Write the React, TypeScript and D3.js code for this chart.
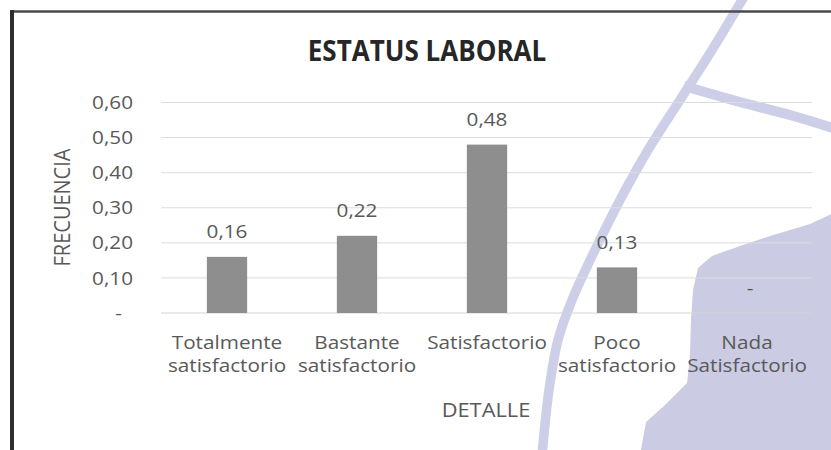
import React from "react";
import * as d3 from "d3";

const categories: string[][] = [
  ["Totalmente", "satisfactorio"],
  ["Bastante", "satisfactorio"],
  ["Satisfactorio"],
  ["Poco", "satisfactorio"],
  ["Nada", "Satisfactorio"],
];
const values: number[] = [0.16, 0.22, 0.48, 0.13, 0];
const yTicks: number[] = [0, 0.1, 0.2, 0.3, 0.4, 0.5, 0.6];
const title = "ESTATUS LABORAL";
const xTitle = "DETALLE";
const yTitle = "FRECUENCIA";

// decorative scan watermark (background only)
const wmArc: [number, number][] = [
  [745, -5], [712, 50], [680, 100], [648, 150], [620, 200], [595, 250],
  [572, 300], [558, 340], [549, 390], [542, 455],
];
const wmBranch: [number, number][] = [[684, 86], [740, 102], [790, 115], [836, 129]];
const wmBlob: [number, number][] = [
  [836, 212], [810, 224], [770, 236], [740, 246], [712, 256], [698, 268],
  [693, 290], [691, 320], [690, 355], [687, 383], [665, 405], [646, 422],
  [640, 455], [836, 455],
];

const W = 831;
const H = 450;
const FONT = "'Open Sans', sans-serif";
const SX = 1.12;
const fmt = (v: number) => (v === 0 ? "-" : d3.format(".2f")(v).replace(".", ","));

export default function App() {
  const x = d3
    .scaleBand<number>()
    .domain(categories.map((_, i) => i))
    .range([162, 812])
    .paddingInner(0.69)
    .paddingOuter(0.345);
  const y = d3.scaleLinear().domain([0, 0.6]).range([313, 102.5]);
  const line = d3.line().curve(d3.curveCatmullRom);
  const area = d3.line().curve(d3.curveLinearClosed);

  const T = (
    key: string,
    tx: number,
    ty: number,
    txt: string,
    size: number,
    anchor: string,
    fill = "#595959",
    weight = 400,
    sx = SX
  ) => (
    <text
      key={key}
      transform={`translate(${tx},${ty}) scale(${sx},1)`}
      textAnchor={anchor}
      fontSize={size}
      fontWeight={weight}
      fill={fill}
      fontFamily={FONT}
    >
      {txt}
    </text>
  );

  return (
    <svg
      width={W}
      height={H}
      style={{ position: "absolute", left: 0, top: 0, display: "block", background: "#fff" }}
    >
      {/* watermark */}
      <path d={area(wmBlob) || ""} fill="#cbcbe3" />
      <path d={line(wmArc) || ""} fill="none" stroke="#cdcee8" strokeWidth={9.5} />
      <path d={line(wmBranch) || ""} fill="none" stroke="#cdcee8" strokeWidth={10} />

      {/* frame */}
      <line x1={10} x2={W} y1={11.5} y2={11.5} stroke="#4a4a4a" strokeWidth={2.5} />
      <line x1={12} x2={12} y1={10} y2={H} stroke="#2e2e2e" strokeWidth={4} />

      {/* gridlines */}
      {yTicks.slice(1).map((t) => (
        <line key={"g" + t} x1={161} x2={812} y1={y(t)} y2={y(t)} stroke="#dcdcdc" strokeWidth={1} />
      ))}
      <line x1={161} x2={812} y1={y(0)} y2={y(0)} stroke="#d4d4d4" strokeWidth={1} />

      {/* y tick labels */}
      {yTicks.map((t) =>
        T("yt" + t, t === 0 ? 122 : 133, y(t) + 6.6, fmt(t), 18.5, "end")
      )}

      {/* bars */}
      {values.map((v, i) => (
        <rect
          key={"b" + i}
          x={x(i)}
          y={y(v)}
          width={x.bandwidth()}
          height={y(0) - y(v)}
          fill="#8e8e8e"
        />
      ))}

      {/* data labels */}
      {values.map((v, i) =>
        T("dl" + i, (x(i) as number) + x.bandwidth() / 2 + (v === 0 ? 3 : 0), y(v) - 18.5, fmt(v), 18.5, "middle")
      )}

      {/* category labels */}
      {categories.map((lines, i) =>
        lines.map((l, j) =>
          T("c" + i + j, (x(i) as number) + x.bandwidth() / 2, 349 + j * 23, l, 18.5, "middle")
        )
      )}

      {/* titles */}
      {T("title", 427, 61, title, 28, "middle", "#262626", 700, 0.93)}
      {T("xt", 486, 417, xTitle, 19.5, "middle")}
      <text
        transform={`translate(70,207.5) rotate(-90) scale(1,${SX})`}
        textAnchor="middle"
        fontSize={20}
        fill="#595959"
        fontFamily={FONT}
      >
        {yTitle}
      </text>
    </svg>
  );
}
